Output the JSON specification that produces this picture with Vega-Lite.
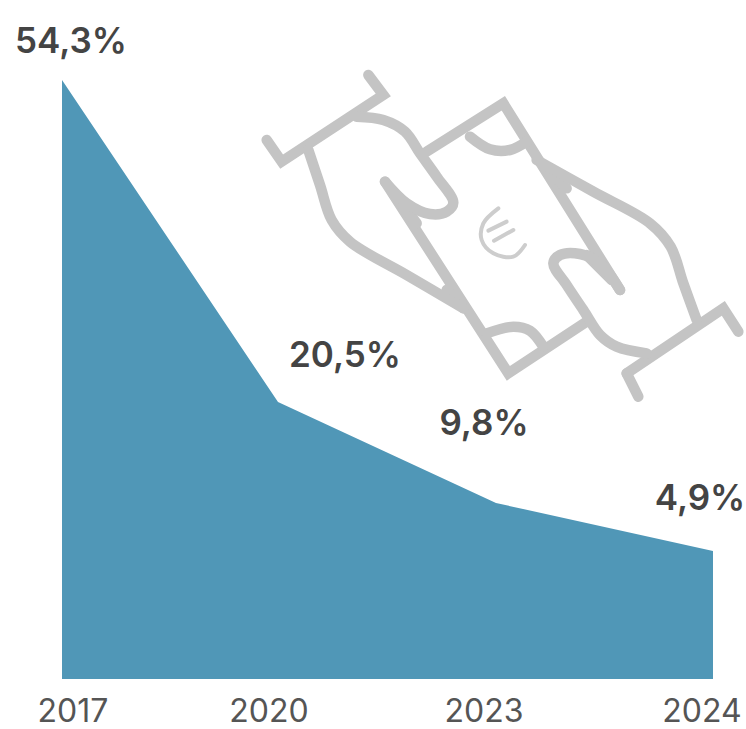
{
"$schema":"https://vega.github.io/schema/vega-lite/v6.json",
"width":746,"height":679,"autosize":{"type":"none"},"padding":{"left":0,"top":0,"right":0,"bottom":50},
"background":"white",
"config":{"view":{"stroke":null}},
"datasets":{
"share":[
{"year":2017,"value":54.3,"label":"54,3%"},
{"year":2020,"value":20.5,"label":"20,5%"},
{"year":2023,"value":9.8,"label":"9,8%"},
{"year":2024,"value":4.9,"label":"4,9%"}],
"iconSharp":[
{"s":"a","i":1,"px":50,"py":240},{"s":"a","i":2,"px":95,"py":305},{"s":"a","i":3,"px":400,"py":105},{"s":"a","i":4,"px":355,"py":45},
{"s":"b","i":1,"px":1130,"py":940},{"s":"b","i":2,"px":1165,"py":1010},
{"s":"c","i":1,"px":1130,"py":940},{"s":"c","i":2,"px":1420,"py":745},{"s":"c","i":3,"px":1465,"py":815},
{"s":"d","i":1,"px":530,"py":275},{"s":"d","i":2,"px":760,"py":130},{"s":"d","i":3,"px":1110,"py":690},
{"s":"e","i":1,"px":405,"py":365},{"s":"e","i":2,"px":775,"py":940},{"s":"e","i":3,"px":1010,"py":785},
{"s":"f","i":1,"px":430,"py":400},{"s":"f","i":2,"px":500,"py":490},
{"s":"g","i":1,"px":1085,"py":660},{"s":"g","i":2,"px":1010,"py":585},
{"s":"h","i":1,"px":880,"py":320},{"s":"h","i":2,"px":950,"py":385},
{"s":"j","i":1,"px":590,"py":690},{"s":"j","i":2,"px":640,"py":745}],
"iconCurved":[
{"s":"k","i":1,"px":175,"py":270},{"s":"k","i":2,"px":210,"py":375},{"s":"k","i":3,"px":245,"py":480},{"s":"k","i":4,"px":300,"py":545},{"s":"k","i":5,"px":470,"py":645},{"s":"k","i":6,"px":640,"py":745},
{"s":"l","i":1,"px":320,"py":170},{"s":"l","i":2,"px":400,"py":180},{"s":"l","i":3,"px":465,"py":215},{"s":"l","i":4,"px":510,"py":280},{"s":"l","i":5,"px":560,"py":350},{"s":"l","i":6,"px":610,"py":428},{"s":"l","i":7,"px":590,"py":455},{"s":"l","i":8,"px":540,"py":462},{"s":"l","i":9,"px":470,"py":430},{"s":"l","i":10,"px":405,"py":365},
{"s":"m","i":1,"px":860,"py":300},{"s":"m","i":2,"px":1030,"py":395},{"s":"m","i":3,"px":1200,"py":490},{"s":"m","i":4,"px":1262,"py":560},{"s":"m","i":5,"px":1300,"py":670},{"s":"m","i":6,"px":1340,"py":780},
{"s":"n","i":1,"px":1190,"py":880},{"s":"n","i":2,"px":1100,"py":860},{"s":"n","i":3,"px":1050,"py":825},{"s":"n","i":4,"px":1000,"py":750},{"s":"n","i":5,"px":950,"py":675},{"s":"n","i":6,"px":910,"py":610},{"s":"n","i":7,"px":930,"py":585},{"s":"n","i":8,"px":990,"py":582},{"s":"n","i":9,"px":1050,"py":610},{"s":"n","i":10,"px":1110,"py":690},
{"s":"o","i":1,"px":660,"py":230},{"s":"o","i":2,"px":720,"py":268},{"s":"o","i":3,"px":780,"py":270},{"s":"o","i":4,"px":830,"py":245},
{"s":"p","i":1,"px":710,"py":820},{"s":"p","i":2,"px":790,"py":800},{"s":"p","i":3,"px":840,"py":812},{"s":"p","i":4,"px":880,"py":860}],
"iconEuro":[
{"s":"q","i":1,"px":745,"py":445},{"s":"q","i":2,"px":700,"py":490},{"s":"q","i":3,"px":695,"py":540},{"s":"q","i":4,"px":730,"py":580},{"s":"q","i":5,"px":790,"py":590},{"s":"q","i":6,"px":825,"py":555},
{"s":"r","i":1,"px":715,"py":512},{"s":"r","i":2,"px":770,"py":485},
{"s":"t","i":1,"px":732,"py":542},{"s":"t","i":2,"px":790,"py":510}]
},
"layer":[
{"data":{"name":"share"},"mark":{"type":"area","color":"#5097b7","interpolate":"linear"},
"encoding":{
"x":{"field":"year","type":"quantitative","axis":null,"scale":{"domain":[2017,2020,2023,2024],"range":[62,278,496,713]}},
"y":{"field":"value","type":"quantitative","stack":null,"axis":null,"scale":{"domain":[0,4.9,9.8,20.5,54.3],"range":[679,551,503,402,80]}}}},
{"data":{"name":"iconSharp"},"mark":{"type":"line","color":"#c4c4c4","strokeWidth":10.5,"strokeCap":"round","strokeJoin":"miter"},
"encoding":{
"x":{"field":"px","type":"quantitative","axis":null,"scale":{"domain":[0,1488],"range":[250,746]}},
"y":{"field":"py","type":"quantitative","axis":null,"scale":{"domain":[0,1050],"range":[60,410]}},
"detail":{"field":"s"},"order":{"field":"i"}}},
{"data":{"name":"iconCurved"},"mark":{"type":"line","color":"#c4c4c4","strokeWidth":10.5,"strokeCap":"round","interpolate":"catmull-rom"},
"encoding":{
"x":{"field":"px","type":"quantitative","axis":null,"scale":{"domain":[0,1488],"range":[250,746]}},
"y":{"field":"py","type":"quantitative","axis":null,"scale":{"domain":[0,1050],"range":[60,410]}},
"detail":{"field":"s"},"order":{"field":"i"}}},
{"data":{"name":"iconEuro"},"mark":{"type":"line","color":"#cdcdcd","strokeWidth":4,"strokeCap":"round","interpolate":"catmull-rom"},
"encoding":{
"x":{"field":"px","type":"quantitative","axis":null,"scale":{"domain":[0,1488],"range":[250,746]}},
"y":{"field":"py","type":"quantitative","axis":null,"scale":{"domain":[0,1050],"range":[60,410]}},
"detail":{"field":"s"},"order":{"field":"i"}}},
{"data":{"name":"share"},"mark":{"type":"text","font":"Inter","fontWeight":600,"fontSize":35,"color":"#444444","align":"center","baseline":"middle"},
"encoding":{
"x":{"field":"year","type":"quantitative","axis":null,"scale":{"domain":[2017,2020,2023,2024],"range":[71,345,484,700]}},
"y":{"field":"value","type":"quantitative","axis":null,"scale":{"domain":[4.9,9.8,20.5,54.3],"range":[499,424,356,42]}},
"text":{"field":"label"}}},
{"data":{"name":"share"},"mark":{"type":"text","font":"Inter","fontSize":32,"color":"#555555","align":"center","baseline":"middle","dy":33},
"encoding":{
"x":{"field":"year","type":"quantitative","axis":null,"scale":{"domain":[2017,2020,2023,2024],"range":[73,269,484,702]}},
"y":{"datum":0,"type":"quantitative","axis":null,"scale":{"domain":[0,1],"range":[679,0]}},
"text":{"field":"year","type":"quantitative","format":"d"}}}
],
"resolve":{"scale":{"x":"independent","y":"independent"}}
}
